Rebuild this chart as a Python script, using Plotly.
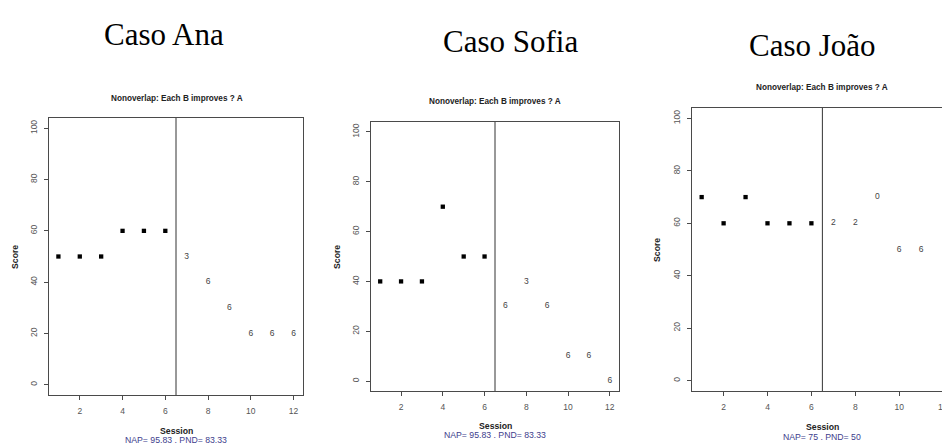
import plotly.graph_objects as go

W, H = 942, 445

# Session numbers and scores per case
sessions_a = [1, 2, 3, 4, 5, 6]
sessions_b = [7, 8, 9, 10, 11, 12]

case_names = ["Caso Ana", "Caso Sofia", "Caso João"]

ana_a = [50, 50, 50, 60, 60, 60]
ana_b = [50, 40, 30, 20, 20, 20]
ana_b_labels = ["3", "6", "6", "6", "6", "6"]

sofia_a = [40, 40, 40, 70, 50, 50]
sofia_b = [30, 40, 30, 10, 10, 0]
sofia_b_labels = ["6", "3", "6", "6", "6", "6"]

joao_a = [70, 60, 70, 60, 60, 60]
joao_b = [60, 60, 70, 50, 50, 50]
joao_b_labels = ["2", "2", "0", "6", "6", "6"]

stats_text = ["NAP= 95.83 . PND= 83.33", "NAP= 95.83 . PND= 83.33", "NAP= 75 . PND= 50"]
panel_title = "Nonoverlap: Each B improves ? A"
phase_change = 6.5
x_ticks = [2, 4, 6, 8, 10, 12]
y_ticks = [0, 20, 40, 60, 80, 100]


def px_x(v):
    return v / W


def px_y(v):
    return 1 - v / H


# pixel boxes of the three panels: left, right, top, bottom
panels = [
    dict(l=49, r=303, t=118, b=395, xr=[0.56, 12.44], mirror_y=True,
         head=(164, 35), title=(177, 98), score=(15, 257), sess=(176, 431), nap=(176, 440)),
    dict(l=371, r=619, t=122, b=391, xr=[0.56, 12.44], mirror_y=True,
         head=(510, 42), title=(495, 102), score=(337, 257), sess=(495, 426), nap=(495, 435)),
    dict(l=692, r=942, t=108, b=391, xr=[0.56, 11.95], mirror_y=False,
         head=(812, 45), title=(822, 87), score=(657, 250), sess=(822, 427), nap=(822, 437)),
]

series = [
    (ana_a, ana_b, ana_b_labels),
    (sofia_a, sofia_b, sofia_b_labels),
    (joao_a, joao_b, joao_b_labels),
]

SANS = "Liberation Sans, Arial, sans-serif"
AXIS_COL = "#4a4a4a"
TICK_COL = "#555555"

fig = go.Figure()
annotations = []
shapes = []

for i, (p, (a_vals, b_vals, b_labels)) in enumerate(zip(panels, series)):
    n = "" if i == 0 else str(i + 1)
    xa, ya = "x" + n, "y" + n

    fig.add_trace(go.Scatter(
        x=sessions_a, y=a_vals, mode="markers", xaxis=xa, yaxis=ya,
        marker=dict(symbol="square", size=4.3, color="#000000"),
        cliponaxis=False, showlegend=False, hoverinfo="skip"))
    fig.add_trace(go.Scatter(
        x=sessions_b, y=b_vals, mode="text", text=b_labels, xaxis=xa, yaxis=ya,
        textposition="middle center",
        textfont=dict(family=SANS, size=8.5, color="#444444"),
        cliponaxis=False, showlegend=False, hoverinfo="skip"))

    common = dict(showline=True, linecolor=AXIS_COL, linewidth=1, ticks="outside",
                  ticklen=4, tickcolor=AXIS_COL, showgrid=False, zeroline=False,
                  tickfont=dict(family=SANS, size=8.5, color=TICK_COL),
                  ticklabelstandoff=4)
    fig.update_layout(**{
        ("xaxis" + n): dict(domain=[px_x(p["l"]), px_x(p["r"])], range=p["xr"],
                            anchor=ya, tickvals=x_ticks, mirror=True, **common),
        ("yaxis" + n): dict(domain=[px_y(p["b"]), px_y(p["t"])], range=[-4, 104],
                            anchor=xa, tickvals=y_ticks, tickangle=-90,
                            mirror=p["mirror_y"], **common),
    })

    # the last tick of a panel that runs past the page edge is drawn by hand
    x0, x1 = p["xr"]
    if x_ticks[-1] > x1:
        frac = (x_ticks[-1] - x0) / (x1 - x0)
        tick_px = p["l"] + frac * (p["r"] - p["l"])
        annotations.append(dict(text=str(x_ticks[-1]), x=px_x(tick_px), y=px_y(p["b"] + 16),
                                xref="paper", yref="paper", showarrow=False,
                                xanchor="center", yanchor="middle",
                                font=dict(family=SANS, size=8.5, color=TICK_COL)))

    # phase separator between A and B
    shapes.append(dict(type="line", xref=xa, yref=ya + " domain", x0=phase_change,
                       x1=phase_change, y0=0, y1=1,
                       line=dict(color="#333333", width=1)))

    hx, hy = p["head"]
    annotations.append(dict(text=case_names[i], x=px_x(hx), y=px_y(hy), xref="paper",
                            yref="paper", showarrow=False, xanchor="center",
                            yanchor="middle",
                            font=dict(family="Liberation Serif, Times New Roman, serif",
                                      size=31, color="#000000")))
    tx, ty = p["title"]
    annotations.append(dict(text="<b>" + panel_title + "</b>", x=px_x(tx), y=px_y(ty),
                            xref="paper", yref="paper", showarrow=False,
                            xanchor="center", yanchor="middle",
                            font=dict(family=SANS, size=8.2, color="#222222")))
    sx, sy = p["score"]
    annotations.append(dict(text="<b>Score</b>", x=px_x(sx), y=px_y(sy), xref="paper",
                            yref="paper", showarrow=False, textangle=-90,
                            xanchor="center", yanchor="middle",
                            font=dict(family=SANS, size=8.7, color="#222222")))
    ex, ey = p["sess"]
    annotations.append(dict(text="<b>Session</b>", x=px_x(ex), y=px_y(ey), xref="paper",
                            yref="paper", showarrow=False, xanchor="center",
                            yanchor="middle",
                            font=dict(family=SANS, size=8.7, color="#222222")))
    nx, ny = p["nap"]
    annotations.append(dict(text=stats_text[i], x=px_x(nx), y=px_y(ny), xref="paper",
                            yref="paper", showarrow=False, xanchor="center",
                            yanchor="middle",
                            font=dict(family=SANS, size=8.7, color="#3d3d8c")))

fig.update_layout(
    width=W, height=H,
    margin=dict(l=0, r=0, t=0, b=0),
    paper_bgcolor="white", plot_bgcolor="white",
    annotations=annotations, shapes=shapes,
)

fig.write_html("out.html")
